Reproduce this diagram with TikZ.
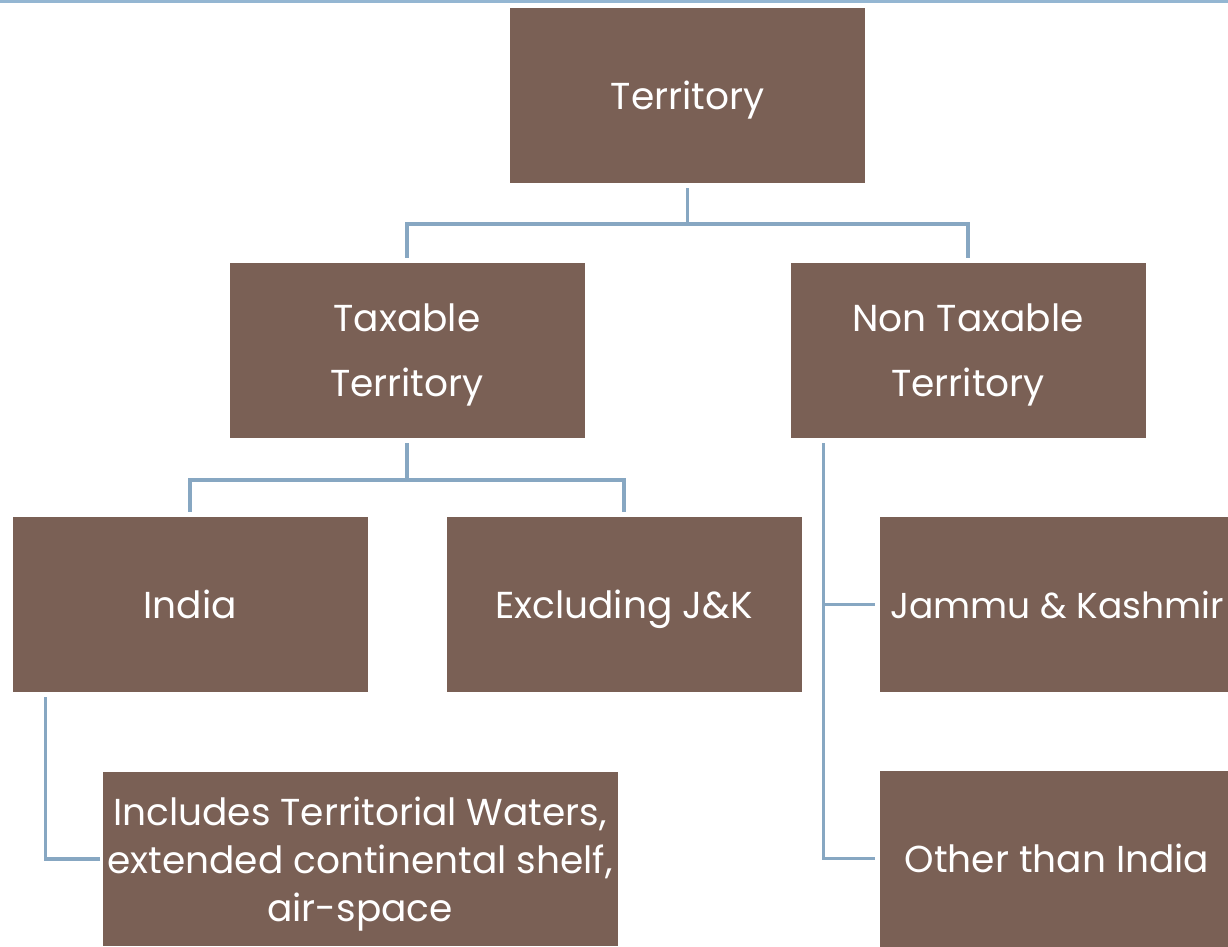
\documentclass[tikz,border=0pt]{standalone}
\usepackage{fontspec}
\setmainfont{Poppins}
\usetikzlibrary{calc}
\definecolor{boxbrown}{HTML}{7A6055}
\definecolor{linkblue}{HTML}{87A7C2}
\definecolor{topblue}{HTML}{94B6D2}
\tikzset{
  tbox/.style={rectangle, fill=boxbrown, text=white, inner sep=0pt, align=center,
    minimum width=355pt, minimum height=175pt, text depth=0pt, font=\fontsize{37.5}{65}\selectfont},
  conn/.style={draw=linkblue, line width=3.5pt, shorten <=5pt, shorten >=5pt}
}
\begin{document}
\begin{tikzpicture}[x=1pt,y=-1pt]
\useasboundingbox (0,0) rectangle (1228,946);
\clip (0,0) rectangle (1228,946);
\fill[topblue] (0,0) rectangle (1228,3);
\node[tbox] (ter) at (687.5,95.5) {Territory};
\node[tbox] (tax) at (407,350.5) {Taxable\\Territory};
\node[tbox] (non) at (968,350.5) {Non Taxable\\Territory};
\node[tbox] (ind) at (190,604.5) {India};
\node[tbox] (exc) at (624,604.5) {Excluding J\&K};
\node[tbox, font=\fontsize{36}{65}\selectfont] (jk) at (1057,604.5) {Jammu \& Kashmir};
\node[tbox, minimum height=176pt] (oth) at (1057,858.5) {Other than India};
\node[tbox, minimum width=515pt, minimum height=174pt, font=\fontsize{37.5}{48}\selectfont] (inc) at (360,859) {Includes Territorial Waters,\\extended continental shelf,\\air-space};
\draw[conn] (ter.south) -- ++(0,41) -| (tax.north);
\draw[conn] (ter.south) -- ++(0,41) -| (non.north);
\draw[conn] (tax.south) -- ++(0,42) -| (ind.north);
\draw[conn] (tax.south) -- ++(0,42) -| (exc.north);
\draw[conn, shorten >=2pt] ($(ind.south west)+(33,0)$) |- (inc.west);
\draw[conn, shorten >=4pt] ($(non.south west)+(33,0)$) |- (jk.west);
\draw[conn, shorten >=4pt] ($(non.south west)+(33,0)$) |- (oth.west);
\end{tikzpicture}
\end{document}
